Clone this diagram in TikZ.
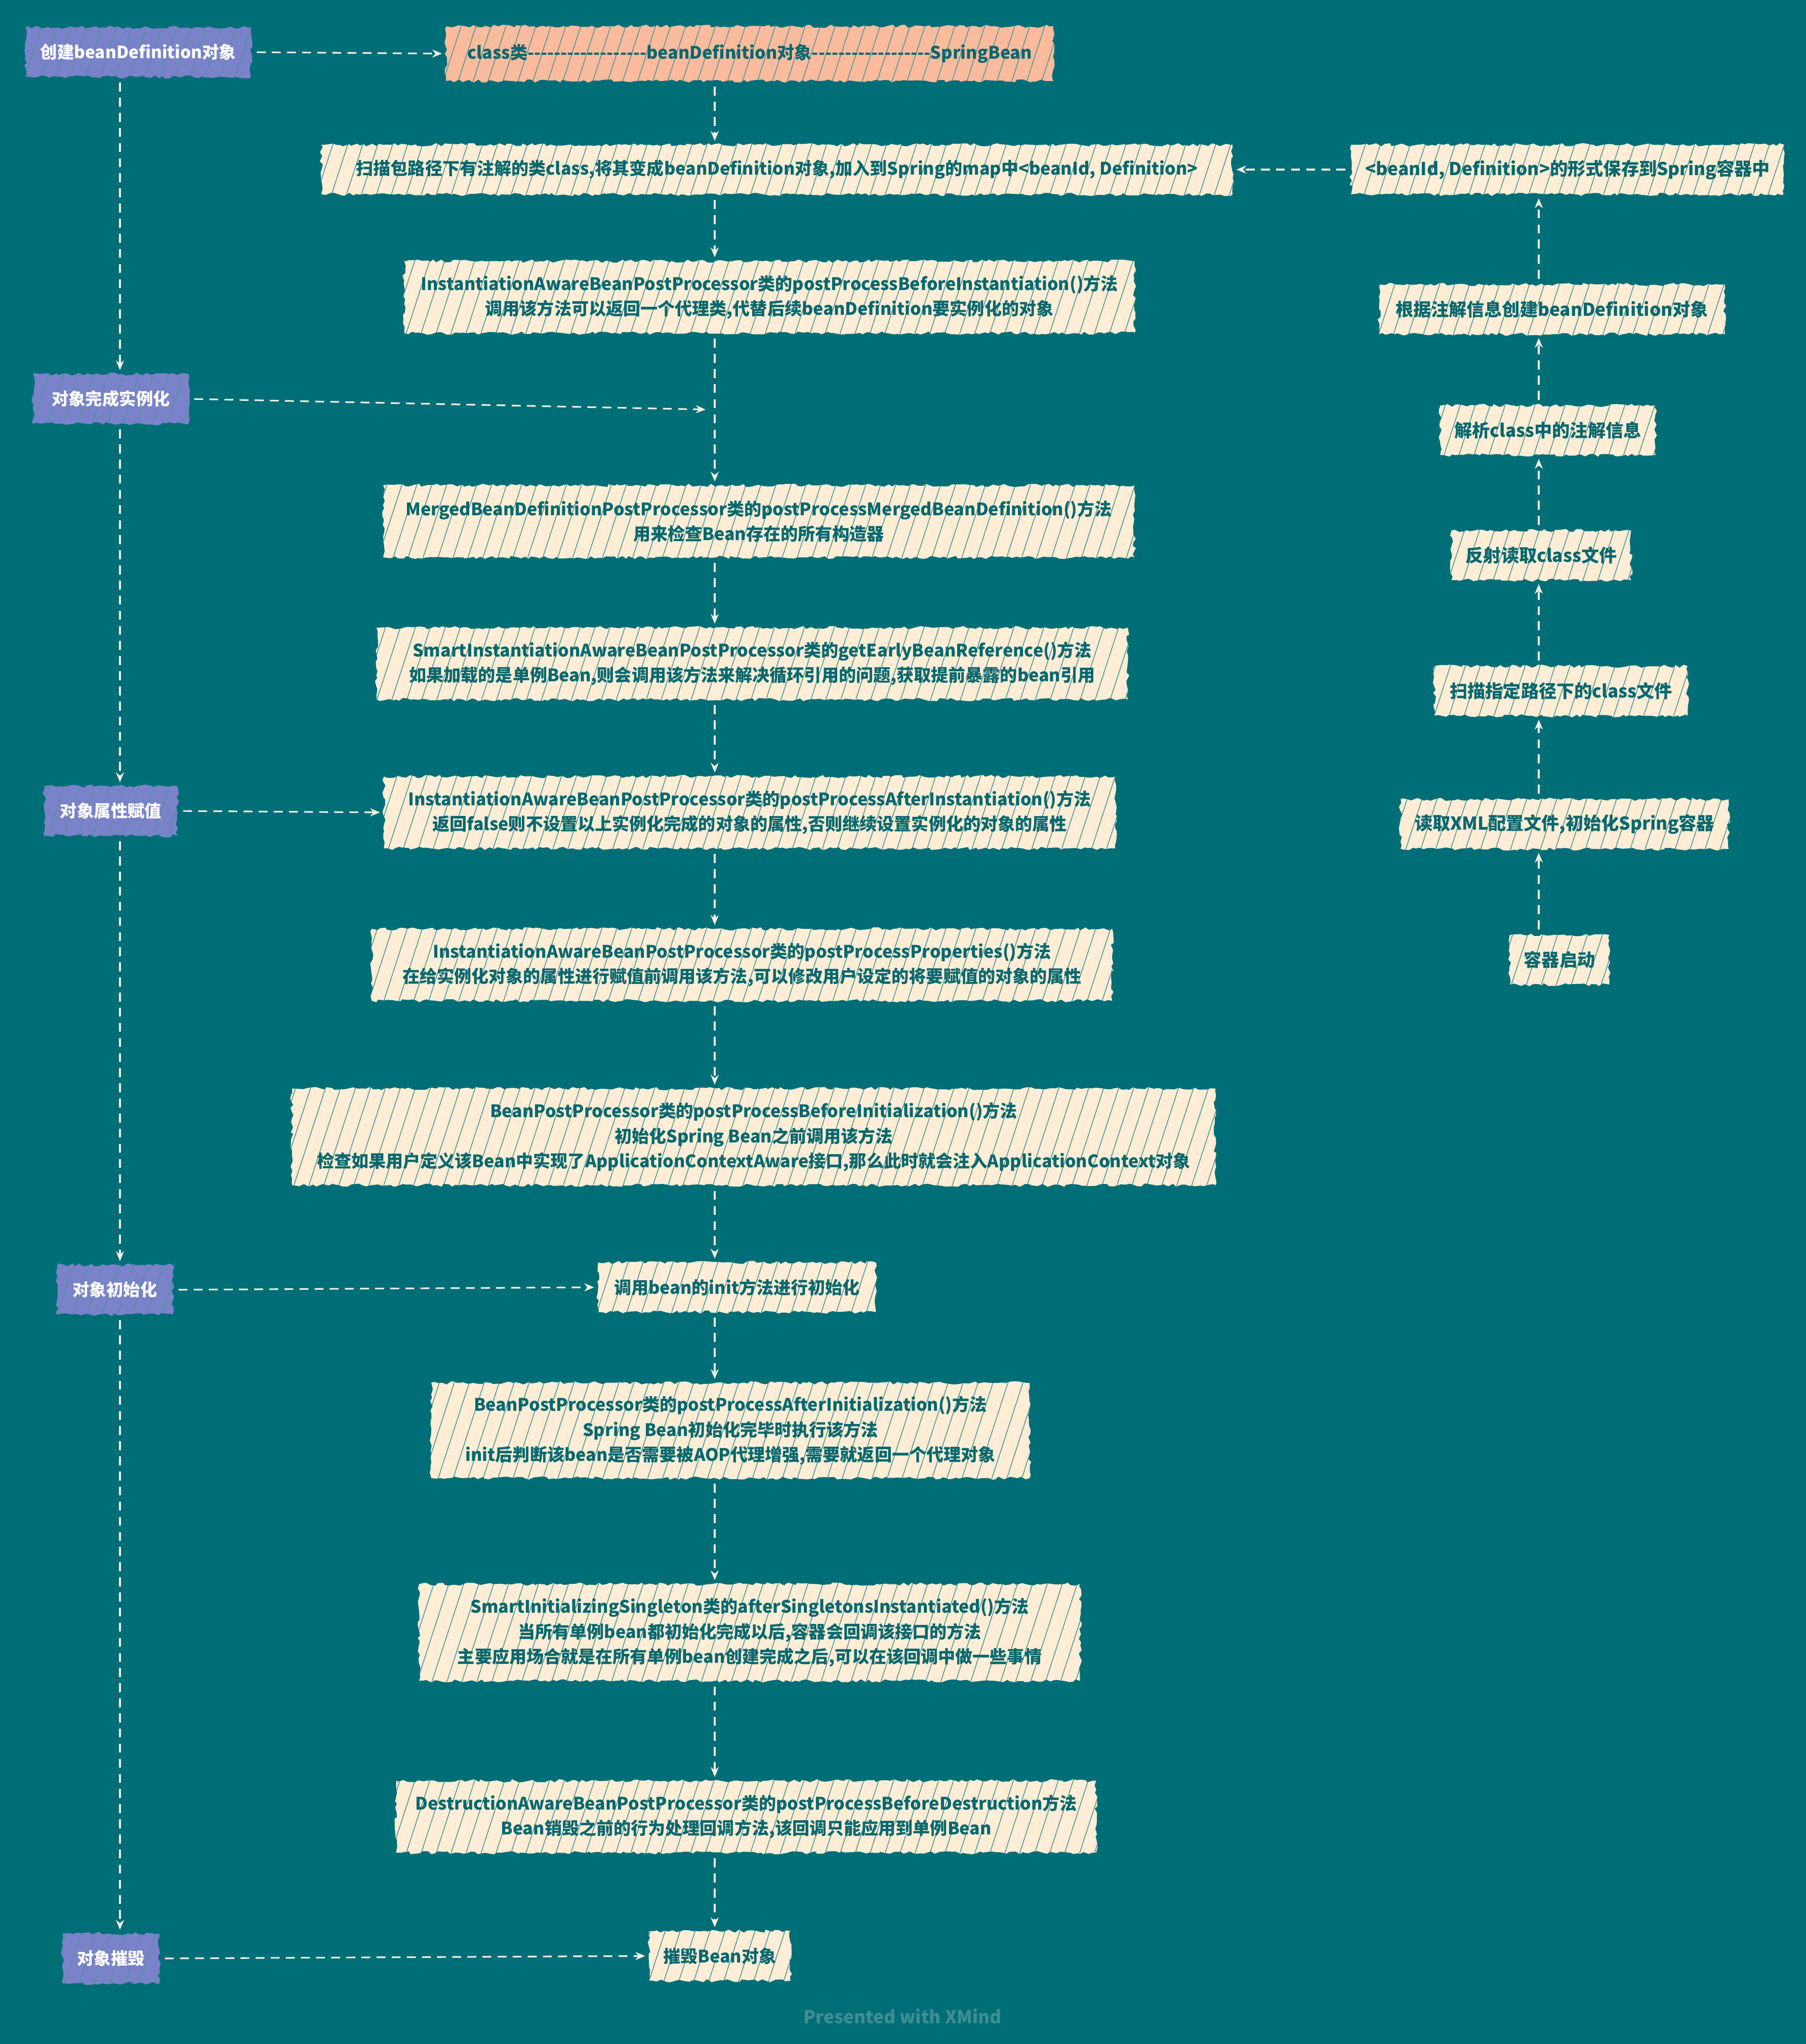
\documentclass[tikz,border=0pt]{standalone}
\usepackage{fontspec}
\setmainfont{Noto Sans CJK SC}
\usepackage{tikz}
\usetikzlibrary{arrows.meta,positioning,calc,decorations.pathmorphing,patterns.meta}
\usepackage{xcolor}
\definecolor{bgteal}{RGB}{0,110,118}
\definecolor{cream}{RGB}{255,238,213}
\definecolor{lavender}{RGB}{122,131,201}
\definecolor{salmon}{RGB}{252,187,156}
\definecolor{inkteal}{RGB}{6,104,111}
\definecolor{lineivory}{RGB}{244,240,230}
\definecolor{markteal}{RGB}{62,142,148}
\newcommand{\hyrun}{-{}-{}-{}-{}-{}-{}-{}-{}-{}-{}-{}-{}-{}-{}-{}-{}-{}-}

\begin{document}
\begin{tikzpicture}[
  sketch/.style={decorate, decoration={random steps, segment length=2.2pt, amplitude=0.9pt},
    postaction={pattern={Lines[angle=72, distance=8pt, line width=0.45pt]}, pattern color=inkteal!70}},
  procbox/.style={sketch, fill=cream, text=inkteal, align=center, minimum height=0.98cm, inner xsep=8pt,
    font=\fontsize{9.7}{14}\selectfont\bfseries},
  headbox/.style={procbox, fill=salmon},
  sidebox/.style={procbox, font=\fontsize{10}{14}\selectfont\bfseries},
  phase/.style={sketch, fill=lavender, text=white, align=center, minimum height=0.98cm, inner xsep=4pt,
    font=\fontsize{9.5}{13}\selectfont\bfseries},
  flow/.style={draw=lineivory, line width=0.9pt, dash pattern=on 5pt off 3.5pt, shorten <=3pt, shorten >=2pt,
    -{Stealth[length=5.5pt, width=4.5pt]}}
]
\pgfmathsetseed{7}
\fill[bgteal] (0,0) rectangle (35.68,-40.38);
\useasboundingbox (0,0) rectangle (35.68,-40.38);

\coordinate (spine) at (14.12,0);
\coordinate (lspine) at (2.37,0);
\coordinate (rspine) at (30.40,0);
\coordinate (joint) at (13.94,-8.09);

\node[phase, minimum width=4.46cm] (create) at (2.73,-1.03) {创建beanDefinition对象};
\node[headbox, minimum width=12.0cm, minimum height=1.08cm] (classbox) at (14.81,-1.06) {class类\hyrun beanDefinition对象\hyrun SpringBean};
\node[procbox, minimum width=18.0cm] (scan) at (15.35,-3.35) {扫描包路径下有注解的类class,将其变成beanDefinition对象,加入到Spring的map中<beanId, Definition>};
\node[sidebox, minimum width=8.45cm] (store) at (30.97,-3.35) {<beanId, Definition>的形式保存到Spring容器中};
\node[procbox, minimum width=14.43cm, minimum height=1.42cm] (beforeInst) at (15.20,-5.87) {
  InstantiationAwareBeanPostProcessor类的postProcessBeforeInstantiation()方法\\
  调用该方法可以返回一个代理类,代替后续beanDefinition要实例化的对象
};
\node[sidebox, minimum width=6.83cm] (createDef) at (30.66,-6.11) {根据注解信息创建beanDefinition对象};
\node[phase, minimum width=3.07cm] (instantiated) at (2.19,-7.88) {对象完成实例化};
\node[sidebox, minimum width=4.25cm] (parse) at (30.58,-8.50) {解析class中的注解信息};
\node[procbox, minimum width=14.84cm, minimum height=1.42cm] (merged) at (14.99,-10.30) {
  MergedBeanDefinitionPostProcessor类的postProcessMergedBeanDefinition()方法\\
  用来检查Bean存在的所有构造器
};
\node[sidebox, minimum width=3.5cm] (reflect) at (30.45,-10.97) {反射读取class文件};
\node[procbox, minimum width=14.84cm, minimum height=1.42cm] (smartEarly) at (14.86,-13.11) {
  SmartInstantiationAwareBeanPostProcessor类的getEarlyBeanReference()方法\\
  如果加载的是单例Bean,则会调用该方法来解决循环引用的问题,获取提前暴露的bean引用
};
\node[sidebox, minimum width=5.0cm] (scanPath) at (30.84,-13.65) {扫描指定路径下的class文件};
\node[phase, minimum width=2.63cm] (propAssign) at (2.19,-16.02) {对象属性赋值};
\node[procbox, minimum width=14.45cm, minimum height=1.42cm] (afterInst) at (14.81,-16.05) {
  InstantiationAwareBeanPostProcessor类的postProcessAfterInstantiation()方法\\
  返回false则不设置以上实例化完成的对象的属性,否则继续设置实例化的对象的属性
};
\node[sidebox, minimum width=6.44cm] (readXml) at (30.91,-16.28) {读取XML配置文件,初始化Spring容器};
\node[procbox, minimum width=14.63cm, minimum height=1.42cm] (props) at (14.66,-19.06) {
  InstantiationAwareBeanPostProcessor类的postProcessProperties()方法\\
  在给实例化对象的属性进行赋值前调用该方法,可以修改用户设定的将要赋值的对象的属性
};
\node[sidebox, minimum width=1.91cm] (start) at (30.81,-18.96) {容器启动};
\node[procbox, minimum width=18.24cm, minimum height=1.91cm] (beforeInit) at (14.89,-22.46) {
  BeanPostProcessor类的postProcessBeforeInitialization()方法\\
  初始化Spring Bean之前调用该方法\\
  检查如果用户定义该Bean中实现了ApplicationContextAware接口,那么此时就会注入ApplicationContext对象
};
\node[phase, minimum width=2.29cm] (initialized) at (2.27,-25.48) {对象初始化};
\node[procbox, minimum width=5.49cm] (init) at (14.56,-25.43) {调用bean的init方法进行初始化};
\node[procbox, minimum width=11.82cm, minimum height=1.88cm] (afterInit) at (14.43,-28.26) {
  BeanPostProcessor类的postProcessAfterInitialization()方法\\
  Spring Bean初始化完毕时执行该方法\\
  init后判断该bean是否需要被AOP代理增强,需要就返回一个代理对象
};
\node[procbox, minimum width=13.06cm, minimum height=1.91cm] (smartSingleton) at (14.81,-32.25) {
  SmartInitializingSingleton类的afterSingletonsInstantiated()方法\\
  当所有单例bean都初始化完成以后,容器会回调该接口的方法\\
  主要应用场合就是在所有单例bean创建完成之后,可以在该回调中做一些事情
};
\node[procbox, minimum width=13.83cm, minimum height=1.42cm] (destruction) at (14.74,-35.89) {
  DestructionAwareBeanPostProcessor类的postProcessBeforeDestruction方法\\
  Bean销毁之前的行为处理回调方法,该回调只能应用到单例Bean
};
\node[phase, minimum width=1.91cm] (destroyed) at (2.19,-38.69) {对象摧毁};
\node[procbox, minimum width=2.76cm] (destroyBean) at (14.22,-38.64) {摧毁Bean对象};
\node[text=markteal, font=\fontsize{10}{12}\selectfont\bfseries] (mark) at (17.83,-39.83) {Presented with XMind};

\draw[flow] (create.east) -- (classbox.west);
\draw[flow] (classbox.south -| spine) -- (scan.north -| spine);
\draw[flow] (scan.south -| spine) -- (beforeInst.north -| spine);
\draw[flow] (beforeInst.south -| spine) -- (merged.north -| spine);
\draw[flow] (merged.south -| spine) -- (smartEarly.north -| spine);
\draw[flow] (smartEarly.south -| spine) -- (afterInst.north -| spine);
\draw[flow] (afterInst.south -| spine) -- (props.north -| spine);
\draw[flow] (props.south -| spine) -- (beforeInit.north -| spine);
\draw[flow] (beforeInit.south -| spine) -- (init.north -| spine);
\draw[flow] (init.south -| spine) -- (afterInit.north -| spine);
\draw[flow] (afterInit.south -| spine) -- (smartSingleton.north -| spine);
\draw[flow] (smartSingleton.south -| spine) -- (destruction.north -| spine);
\draw[flow] (destruction.south -| spine) -- (destroyBean.north -| spine);

\draw[flow] (create.south -| lspine) -- (instantiated.north -| lspine);
\draw[flow] (instantiated.south -| lspine) -- (propAssign.north -| lspine);
\draw[flow] (propAssign.south -| lspine) -- (initialized.north -| lspine);
\draw[flow] (initialized.south -| lspine) -- (destroyed.north -| lspine);

\draw[flow, shorten >=0pt] (instantiated.east) -- (joint);
\draw[flow] (propAssign.east) -- (afterInst.west);
\draw[flow] (initialized.east) -- (init.west);
\draw[flow] (destroyed.east) -- (destroyBean.west);

\draw[flow] (start.north -| rspine) -- (readXml.south -| rspine);
\draw[flow] (readXml.north -| rspine) -- (scanPath.south -| rspine);
\draw[flow] (scanPath.north -| rspine) -- (reflect.south -| rspine);
\draw[flow] (reflect.north -| rspine) -- (parse.south -| rspine);
\draw[flow] (parse.north -| rspine) -- (createDef.south -| rspine);
\draw[flow] (createDef.north -| rspine) -- (store.south -| rspine);
\draw[flow] (store.west) -- (scan.east);
\end{tikzpicture}
\end{document}
